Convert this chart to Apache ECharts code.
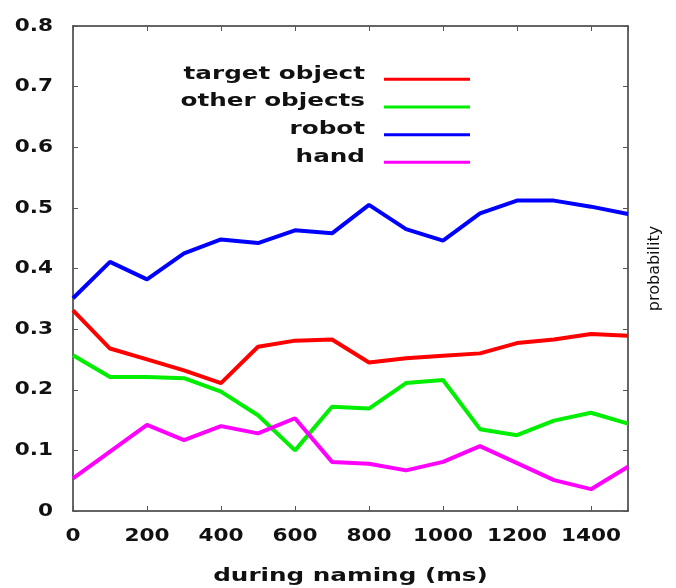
<!DOCTYPE html>
<html>
<head>
<meta charset="utf-8">
<script src="https://cdn.jsdelivr.net/npm/echarts@6/dist/echarts.min.js"></script>
<style>
  html, body { margin: 0; padding: 0; background: #fff; }
  #chart { width: 676px; height: 588px; }
</style>
</head>
<body>
<div id="chart"></div>
<script>
// Time after naming onset (ms), one sample every 100 ms
var times = [0, 100, 200, 300, 400, 500, 600, 700, 800, 900, 1000, 1100, 1200, 1300, 1400, 1500];

// Probability of gaze on each region
var targetObject = [0.331, 0.268, 0.250, 0.232, 0.211, 0.271, 0.281, 0.283, 0.245, 0.252, 0.256, 0.260, 0.277, 0.283, 0.292, 0.289];
var otherObjects = [0.257, 0.221, 0.221, 0.219, 0.197, 0.158, 0.100, 0.172, 0.169, 0.211, 0.216, 0.135, 0.125, 0.149, 0.162, 0.144];
var robot        = [0.351, 0.411, 0.382, 0.425, 0.448, 0.442, 0.463, 0.458, 0.505, 0.465, 0.446, 0.491, 0.512, 0.512, 0.502, 0.490];
var hand         = [0.054, 0.098, 0.142, 0.117, 0.140, 0.128, 0.153, 0.081, 0.078, 0.067, 0.081, 0.107, 0.079, 0.051, 0.036, 0.073];

var seriesNames  = ['target object', 'other objects', 'robot', 'hand'];
var seriesColors = ['#ff0000', '#00ee00', '#0000ff', '#ff00ff'];
var seriesData   = [targetObject, otherObjects, robot, hand];

function pairs(values) {
  return times.map(function (t, i) { return [t, values[i]]; });
}

// Bold lettering is drawn horizontally widened: numerals (18px) a little,
// words (17px) more. Measurement and drawing use the same factor.
function stretchFor(font) {
  if (!/bold/.test(font)) return 1;
  if (/\b18px/.test(font)) return 1.2;
  if (/\b17px/.test(font)) return 1.45;
  return 1;
}
var measureCtx = document.createElement('canvas').getContext('2d');
echarts.setPlatformAPI({
  measureText: function (text, font) {
    measureCtx.font = font || '12px sans-serif';
    var m = measureCtx.measureText(text);
    return { width: m.width * stretchFor(measureCtx.font) };
  }
});
var baseFillText = CanvasRenderingContext2D.prototype.fillText;
CanvasRenderingContext2D.prototype.fillText = function (text, x, y) {
  var s = stretchFor(this.font);
  if (s === 1) return baseFillText.apply(this, arguments);
  this.save();
  this.translate(x, y);
  this.scale(s, 1);
  baseFillText.call(this, text, 0, 0);
  this.restore();
};

var fontFamily = 'DejaVu Sans';

// Frame lines stay on their own side of the plot (no snapping to zero)
function axisLine() {
  return { show: true, onZero: false, lineStyle: { color: '#333', width: 1.5 } };
}
function innerTicks() {
  return { show: true, inside: true, length: 5, lineStyle: { color: '#555', width: 1 } };
}

var chart = echarts.init(document.getElementById('chart'), null, { renderer: 'canvas' });

chart.setOption({
  animation: false,
  backgroundColor: '#fff',
  grid: { left: 73, right: 48, top: 26, bottom: 77, containLabel: false, outerBoundsMode: 'none' },
  legend: {
    data: seriesNames,
    orient: 'vertical',
    align: 'right',
    right: 206,
    top: 62,
    padding: 0,
    itemGap: 3,
    itemWidth: 86,
    itemHeight: 13,
    // thin bar sitting at the foot of the item box, a little below the text centre
    icon: 'path://M0,0L86,0L86,0.01L0,0.01Z M0,10L86,10L86,13L0,13Z',
    selectedMode: false,
    textStyle: {
      fontFamily: fontFamily,
      fontWeight: 'bold',
      fontSize: 17,
      lineHeight: 22,
      color: '#111',
      padding: [0, 14, 0, 0]
    }
  },
  xAxis: [
    {
      type: 'value',
      position: 'bottom',
      min: 0,
      max: 1500,
      interval: 200,
      name: 'during naming (ms)',
      nameLocation: 'middle',
      nameGap: 53,
      nameTextStyle: { fontFamily: fontFamily, fontWeight: 'bold', fontSize: 17, color: '#111' },
      axisLine: axisLine(),
      axisTick: innerTicks(),
      axisLabel: {
        showMaxLabel: false,
        margin: 15,
        fontFamily: fontFamily,
        fontWeight: 'bold',
        fontSize: 18,
        color: '#111',
        formatter: function (v) { return String(v); }
      },
      splitLine: { show: false }
    },
    {
      type: 'value',
      position: 'top',
      min: 0,
      max: 1500,
      interval: 200,
      axisLine: axisLine(),
      axisTick: innerTicks(),
      axisLabel: { show: false },
      splitLine: { show: false }
    }
  ],
  yAxis: [
    {
      type: 'value',
      position: 'left',
      min: 0,
      max: 0.8,
      interval: 0.1,
      axisLine: axisLine(),
      axisTick: innerTicks(),
      axisLabel: {
        margin: 20,
        fontFamily: fontFamily,
        fontWeight: 'bold',
        fontSize: 18,
        color: '#111'
      },
      splitLine: { show: false }
    },
    {
      type: 'value',
      position: 'right',
      min: 0,
      max: 0.8,
      interval: 0.1,
      name: 'probability',
      nameLocation: 'middle',
      nameRotate: 90,
      nameGap: 19,
      nameTextStyle: { fontFamily: fontFamily, fontSize: 16, color: '#111' },
      axisLine: axisLine(),
      axisTick: innerTicks(),
      axisLabel: { show: false },
      splitLine: { show: false }
    }
  ],
  series: seriesNames.map(function (name, i) {
    return {
      name: name,
      type: 'line',
      xAxisIndex: 0,
      yAxisIndex: 0,
      data: pairs(seriesData[i]),
      symbol: 'none',
      smooth: false,
      color: seriesColors[i],
      lineStyle: { color: seriesColors[i], width: 4 }
    };
  })
});
</script>
</body>
</html>
